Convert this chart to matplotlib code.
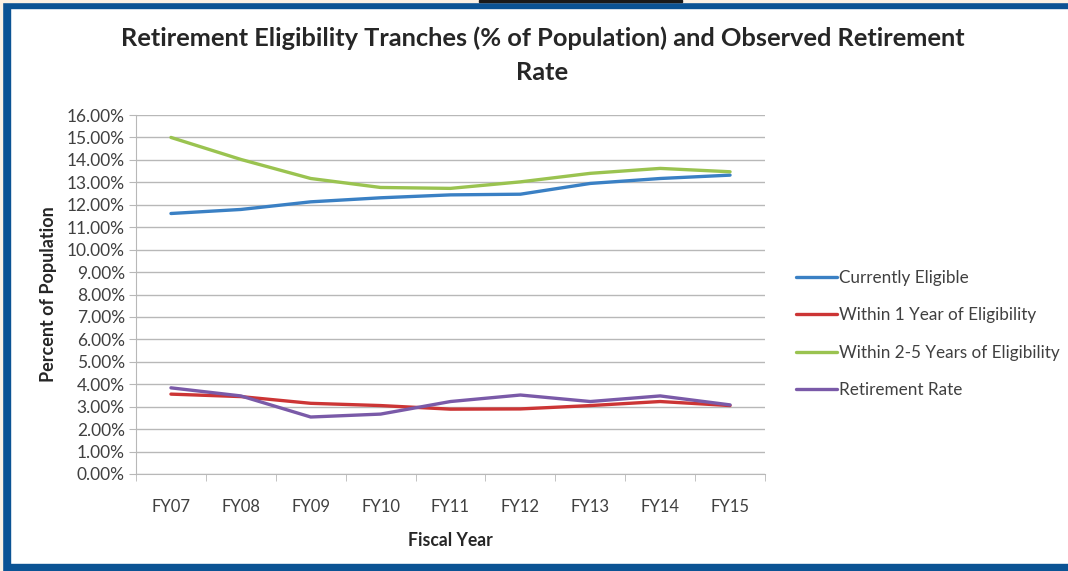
import matplotlib
matplotlib.use("Agg")
import matplotlib.pyplot as plt
from matplotlib.patches import Rectangle
from matplotlib.ticker import FuncFormatter, MultipleLocator, FixedLocator

# Data (percent of population)
years = ["FY07", "FY08", "FY09", "FY10", "FY11", "FY12", "FY13", "FY14", "FY15"]
currently_eligible = [11.61, 11.79, 12.13, 12.31, 12.44, 12.47, 12.95, 13.17, 13.32]
within_1_year = [3.56, 3.45, 3.15, 3.05, 2.89, 2.90, 3.05, 3.23, 3.05]
within_2_5_years = [15.00, 14.02, 13.17, 12.77, 12.73, 13.02, 13.40, 13.62, 13.47]
retirement_rate = [3.84, 3.48, 2.54, 2.67, 3.23, 3.52, 3.23, 3.48, 3.08]

series = [
    ("Currently Eligible", currently_eligible, "#3a80c4"),
    ("Within 1 Year of Eligibility", within_1_year, "#cc3535"),
    ("Within 2-5 Years of Eligibility", within_2_5_years, "#9ac350"),
    ("Retirement Rate", retirement_rate, "#7a5aa8"),
]

W, H = 1068, 571
fig = plt.figure(figsize=(W / 100, H / 100), dpi=100)
fig.patch.set_facecolor("white")

font = "Lato"
txt_color = "#404040"

ax = fig.add_axes([136 / W, 1 - 474 / H, 629 / W, (474 - 115) / H])
x = list(range(len(years)))
for name, vals, color in series:
    ax.plot(x, vals, color=color, lw=2.4, label=name, solid_capstyle="round")

ax.set_xlim(-0.5, len(years) - 0.5)
ax.set_ylim(0, 16)
ax.yaxis.set_major_locator(MultipleLocator(1))
ax.yaxis.set_major_formatter(FuncFormatter(lambda v, p: f"{v:.2f}%"))
ax.grid(axis="y", color="#b8b8b8", lw=1)
ax.set_axisbelow(True)

ax.set_xticks(x)
ax.set_xticklabels(years)
ax.xaxis.set_minor_locator(FixedLocator([i - 0.5 for i in range(len(years) + 1)]))
ax.tick_params(axis="x", which="major", length=0, pad=18)
ax.tick_params(axis="x", which="minor", length=5, color="#b8b8b8", direction="out")
ax.tick_params(axis="y", length=5, color="#b8b8b8", pad=3)

for lbl in ax.get_xticklabels():
    lbl.set_fontfamily(font)
    lbl.set_fontsize(12)
    lbl.set_color(txt_color)
for lbl in ax.get_yticklabels():
    lbl.set_fontfamily(font)
    lbl.set_fontsize(12.5)
    lbl.set_color(txt_color)

for side in ["top", "right"]:
    ax.spines[side].set_visible(False)
for side in ["left", "bottom"]:
    ax.spines[side].set_color("#b8b8b8")

ax.set_xlabel("Fiscal Year", fontfamily=font, fontsize=12.7, fontweight="bold",
              color="#262626", labelpad=12)
ax.set_ylabel("Percent of Population", fontfamily=font, fontsize=13,
              fontweight="bold", color="#262626", labelpad=7)

fig.text(0.508, 1 - 38 / H, "Retirement Eligibility Tranches (% of Population) and Observed Retirement",
         ha="center", va="center", fontfamily=font, fontsize=18.3, fontweight="bold", color="#262626")
fig.text(0.508, 1 - 73 / H, "Rate", ha="center", va="center", fontfamily=font,
         fontsize=18.3, fontweight="bold", color="#262626")

leg = fig.legend(loc="upper left", bbox_to_anchor=(789 / W, 1 - 263 / H), frameon=False,
                 prop={"family": font, "size": 12.3}, handlelength=2.4, handletextpad=0.1,
                 labelspacing=1.25, borderaxespad=0)
for t in leg.get_texts():
    t.set_color(txt_color)

# frame around the panel
blue = "#0b5394"
fig.patches.append(Rectangle((2 / W, 0), 8 / W, 1 - 2 / H, transform=fig.transFigure,
                             color=blue, zorder=10))
fig.patches.append(Rectangle((2 / W, 1 - 8 / H), 1, 6 / H, transform=fig.transFigure,
                             color=blue, zorder=10))
fig.patches.append(Rectangle((2 / W, 0), 1, 7 / H, transform=fig.transFigure,
                             color=blue, zorder=10))
fig.patches.append(Rectangle((0, 0), 2 / W, 1, transform=fig.transFigure,
                             color="#fbf1e4", zorder=10))
fig.patches.append(Rectangle((0, 1 - 2 / H), 1, 2 / H, transform=fig.transFigure,
                             color="#fbf1e4", zorder=10))
fig.patches.append(Rectangle((479 / W, 1 - 2 / H), 203 / W, 2 / H, transform=fig.transFigure,
                             color="#1a1a1a", zorder=11))

fig.savefig("out.png", dpi=100)
